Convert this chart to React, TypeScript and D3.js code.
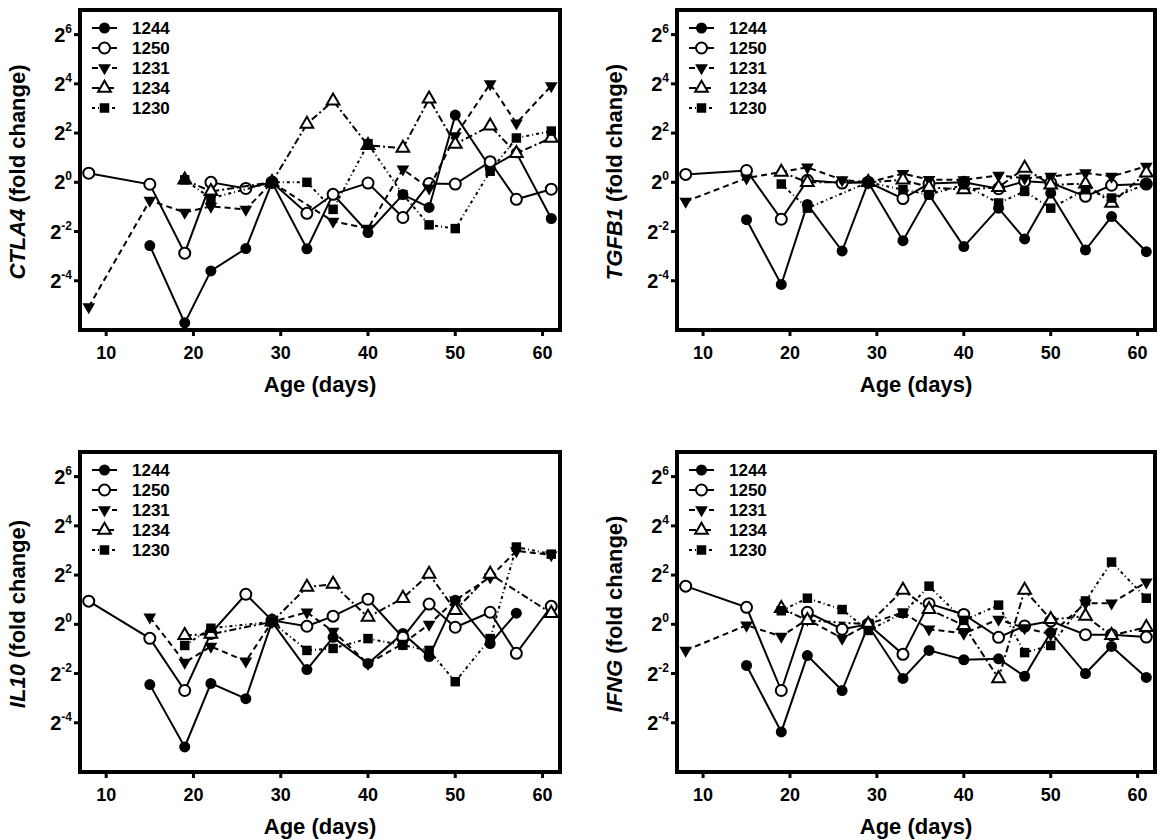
import React from 'react';
import * as d3 from 'd3';

// sampling days (age in days)
const days = [8, 15, 19, 22, 26, 29, 33, 36, 40, 44, 47, 50, 54, 57, 61];
const mice = ['1244', '1250', '1231', '1234', '1230'];
const xTicks = [10, 20, 30, 40, 50, 60];
const yTicks = [-4, -2, 0, 2, 4, 6]; // log2 exponents

// log2 fold change, one value per day, null = no sample
const ctla4_1244 = [null, -2.57, -5.71, -3.6, -2.69, 0, -2.7, -0.49, -2.04, -0.5, -1.02, 2.73, 0.6, 1.2, -1.47];
const ctla4_1250 = [0.37, -0.08, -2.88, 0, -0.25, 0, -1.26, -0.49, -0.03, -1.43, -0.05, -0.07, 0.84, -0.69, -0.28];
const ctla4_1231 = [-5.06, -0.74, -1.22, -0.98, -1.1, 0, null, -1.59, -1.87, 0.53, -0.24, 1.88, 4.0, 2.4, 3.92];
const ctla4_1234 = [null, null, 0.1, -0.37, null, 0, 2.37, 3.31, 1.5, 1.39, 3.39, 1.55, 2.29, 1.18, 1.8];
const ctla4_1230 = [null, null, 0.1, -0.65, null, 0, 0, -1.1, 1.57, -0.5, -1.73, -1.88, 0.45, 1.8, 2.08];

const tgfb1_1244 = [null, -1.52, -4.15, -0.9, -2.79, 0, -2.37, -0.5, -2.61, -1.05, -2.3, -0.44, -2.75, -1.39, -2.82];
const tgfb1_1250 = [0.32, 0.48, -1.5, 0.08, -0.03, 0, -0.66, -0.05, 0, -0.26, 0.04, -0.02, -0.57, -0.12, -0.07];
const tgfb1_1231 = [-0.78, 0.17, null, 0.61, 0.1, 0, 0.35, 0.11, 0.1, 0.28, 0.17, 0.24, 0.38, 0.24, 0.65];
const tgfb1_1234 = [null, null, 0.42, 0.0, null, 0, 0.1, -0.2, -0.3, -0.2, 0.58, -0.1, -0.06, -0.84, 0.38];
const tgfb1_1230 = [null, null, -0.07, -1.05, null, 0, -0.3, -0.5, -0.1, -0.84, -0.37, -1.05, -0.3, -0.64, -0.07];

const il10_1244 = [null, -2.45, -4.98, -2.4, -3.02, 0.1, -1.84, -0.53, -1.59, -0.37, -1.31, 0.98, -0.78, 0.45, null];
const il10_1250 = [0.94, -0.57, -2.69, -0.37, 1.22, 0.16, -0.08, 0.33, 1.02, -0.53, 0.82, -0.12, 0.49, -1.18, 0.73];
const il10_1231 = [null, 0.29, -1.55, -0.9, -1.5, 0.1, 0.49, -0.29, -1.6, -0.78, 0.0, 0.98, 1.92, 2.98, 2.82];
const il10_1234 = [null, null, -0.45, -0.4, null, 0.1, 1.51, 1.63, 0.29, 1.06, 2.04, 0.57, 2.04, null, 0.45];
const il10_1230 = [null, null, -0.86, -0.16, null, 0.1, -1.06, -0.98, -0.58, -0.85, -1.06, -2.33, -0.58, 3.14, 2.85];

const ifng_1244 = [null, -1.67, -4.37, -1.27, -2.69, -0.05, -2.2, -1.06, -1.44, -1.4, -2.11, -0.33, -2.0, -0.9, -2.16];
const ifng_1250 = [1.55, 0.69, -2.69, 0.49, -0.2, 0, -1.22, 0.84, 0.4, -0.53, -0.07, 0.13, -0.42, -0.42, -0.52];
const ifng_1231 = [-1.06, -0.04, -0.49, 0.2, -0.57, 0, 0.49, -0.2, -0.37, 0.2, -0.15, -0.4, 0.86, 0.86, 1.71];
const ifng_1234 = [null, null, 0.65, 0.16, null, 0, 1.39, 0.61, -0.04, -2.2, 1.39, 0.2, 0.33, -0.45, -0.12];
const ifng_1230 = [null, null, 0.55, 1.06, 0.6, -0.25, 0.45, 1.55, 0.16, 0.78, -1.15, -0.86, 0.95, 2.53, 1.06];

const panels = [
  { gene: 'CTLA4', left: 80, top: 10, width: 480, series: [ctla4_1244, ctla4_1250, ctla4_1231, ctla4_1234, ctla4_1230] },
  { gene: 'TGFB1', left: 677, top: 10, width: 478, series: [tgfb1_1244, tgfb1_1250, tgfb1_1231, tgfb1_1234, tgfb1_1230] },
  { gene: 'IL10', left: 80, top: 452, width: 480, series: [il10_1244, il10_1250, il10_1231, il10_1234, il10_1230] },
  { gene: 'IFNG', left: 677, top: 452, width: 478, series: [ifng_1244, ifng_1250, ifng_1231, ifng_1234, ifng_1230] },
];

// per-mouse look
const looks = [
  { dash: null, symbol: d3.symbolCircle, size: 95, fill: '#000', rotate: 0 },
  { dash: null, symbol: d3.symbolCircle, size: 95, fill: '#fff', rotate: 0 },
  { dash: '6,4', symbol: d3.symbolTriangle, size: 70, fill: '#000', rotate: 180 },
  { dash: '7,3,2,3', symbol: d3.symbolTriangle, size: 70, fill: '#fff', rotate: 0 },
  { dash: '3,3,1,3', symbol: d3.symbolSquare, size: 90, fill: '#000', rotate: 0 },
];

const FONT = '"Liberation Sans", Arial, sans-serif';
const H = 320;

const Marker = ({ look, x, y }) => (
  <path
    d={d3.symbol(look.symbol, look.size)()}
    transform={`translate(${x},${y}) rotate(${look.rotate})`}
    fill={look.fill}
    stroke="#000"
    strokeWidth={look.fill === '#fff' ? 2 : 0}
  />
);

const Panel = ({ p }) => {
  const x = d3.scaleLinear().domain([7, 62]).range([0, p.width]);
  const y = d3.scaleLinear().domain([-6, 7]).range([H, 0]);
  const line = d3.line().x((d) => x(d[0])).y((d) => y(d[1]));

  return (
    <g transform={`translate(${p.left},${p.top})`}>
      {/* y ticks */}
      {yTicks.map((t) => (
        <g key={t} transform={`translate(0,${y(t)})`}>
          <line x1={-6} x2={0} stroke="#000" strokeWidth={3} />
          <text x={-8} y={7} textAnchor="end" fontSize={20} fontWeight="bold">
            2<tspan fontSize={12} dy={-9}>{t}</tspan>
          </text>
        </g>
      ))}
      {/* x ticks */}
      {xTicks.map((t) => (
        <g key={t} transform={`translate(${x(t)},${H})`}>
          <line y1={0} y2={6} stroke="#000" strokeWidth={3} />
          <text y={29} textAnchor="middle" fontSize={18} fontWeight="bold">{t}</text>
        </g>
      ))}
      <text x={p.width / 2} y={H + 62} textAnchor="middle" fontSize={22} fontWeight="bold">Age (days)</text>
      <text transform={`translate(-55,${H / 2 + 2}) rotate(-90)`} textAnchor="middle" fontSize={22} fontWeight="bold">
        <tspan fontStyle="italic">{p.gene}</tspan> (fold change)
      </text>

      {/* series */}
      {p.series.map((vals, i) => {
        const pts = days.map((d, j) => [d, vals[j]]).filter((d) => d[1] !== null);
        const look = looks[i];
        return (
          <g key={i}>
            <path d={line(pts)} fill="none" stroke="#000" strokeWidth={2} strokeDasharray={look.dash || undefined} />
            {pts.map((d, j) => (
              <Marker key={j} look={look} x={x(d[0])} y={y(d[1])} />
            ))}
          </g>
        );
      })}

      {/* legend */}
      {mice.map((m, i) => (
        <g key={m} transform={`translate(0,${18 + i * 20})`}>
          <line x1={12} x2={37} stroke="#000" strokeWidth={2} strokeDasharray={looks[i].dash || undefined} />
          <Marker look={looks[i]} x={24.5} y={0} />
          <text x={52} y={6} fontSize={17} fontWeight="bold">{m}</text>
        </g>
      ))}

      <rect x={0} y={0} width={p.width} height={H} fill="none" stroke="#000" strokeWidth={4} />
    </g>
  );
};

export default function App() {
  return (
    <svg
      width={1161}
      height={840}
      style={{ position: 'absolute', left: 0, top: 0, background: '#fff' }}
      fontFamily={FONT}
    >
      {panels.map((p) => (
        <Panel key={p.gene} p={p} />
      ))}
    </svg>
  );
}
